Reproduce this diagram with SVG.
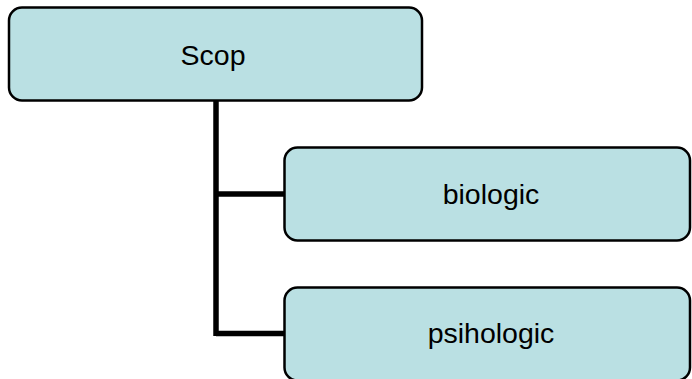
<svg xmlns="http://www.w3.org/2000/svg" width="692" height="379" viewBox="0 0 692 379">
<style>
.box{fill:#BAE0E3;stroke:#000;stroke-width:2.5}
.lbl{font-family:"Liberation Sans",Arial,sans-serif;font-size:28.5px;fill:#000;text-anchor:middle}
.con{fill:none;stroke:#000;stroke-width:5.5}
</style>
<rect width="692" height="379" fill="#fff"/>
<g id="connectors">
<path class="con" d="M216,100 V336"/>
<path class="con" d="M216,194 H285"/>
<path class="con" d="M216,333.5 H285"/>
</g>
<g id="scop">
<rect class="box" x="9" y="7.5" width="413" height="93" rx="13"/>
<text class="lbl" x="213" y="65">Scop</text>
</g>
<g id="biologic">
<rect class="box" x="284.5" y="147.5" width="405.5" height="93" rx="13"/>
<text class="lbl" x="491" y="204">biologic</text>
</g>
<g id="psihologic">
<rect class="box" x="284.5" y="287.5" width="405.5" height="93" rx="13"/>
<text class="lbl" x="491" y="343">psihologic</text>
</g>
</svg>
